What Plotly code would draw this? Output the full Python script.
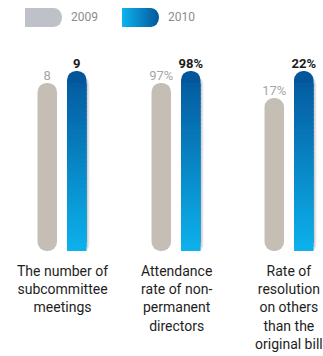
import base64
import plotly.graph_objects as go

# ---------------- data ----------------
categories = [
    "The number of<br>subcommittee<br>meetings",
    "Attendance<br>rate of non-<br>permanent<br>directors",
    "Rate of<br>resolution<br>on others<br>than the<br>original bill",
]
years = ["2009", "2010"]
values_2009 = [8, 97, 17]
values_2010 = [9, 98, 22]
labels_2009 = ["8", "97%", "17%"]
labels_2010 = ["9", "98%", "22%"]

# ---------------- layout / style ----------------
W, H = 323, 356
Y_RANGES = [(-6.0, 11.58), (83.0, 100.58), (-11.33, 27.74)]   # per-group axis ranges (infographic scale)
PX_PER_UNIT = [12.0, 12.0, 5.4]
GROUP_CENTERS = [62, 176, 289]
GROUP_W = 59
PLOT_TOP, PLOT_BOTTOM = 40, 251
GRAY = "#c4beb4"
BLUE_TOP = (4, 86, 155)
BLUE_BOTTOM = (12, 178, 236)
N_SEG = 40
CAP_PX = 12

def lerp(c1, c2, t):
    return "rgb(%d,%d,%d)" % tuple(round(a + (b - a) * t) for a, b in zip(c1, c2))

fig = go.Figure()
shadow_offsets = [(-0.33 + 0.10, "rgba(0,0,0,0.08)"), (-0.33 + 0.06, "rgba(0,0,0,0.10)")]

for i in range(3):
    xa = "x" if i == 0 else f"x{i+1}"
    ya = "y" if i == 0 else f"y{i+1}"
    lo, hi = Y_RANGES[i]
    v09, v10 = values_2009[i], values_2010[i]
    # gray bar (2009)
    fig.add_trace(go.Bar(x=[years[0]], y=[v09 - lo], base=[lo], xaxis=xa, yaxis=ya,
                         marker=dict(color=GRAY, cornerradius="50%", line=dict(width=0)),
                         hoverinfo="skip", showlegend=False))
    # shadow of blue bar
    for off, col in shadow_offsets:
        fig.add_trace(go.Bar(x=[years[1]], y=[v10 - lo - 1 / PX_PER_UNIT[i]], base=[lo - 3 / PX_PER_UNIT[i]],
                             offset=off, width=0.66, xaxis=xa, yaxis=ya,
                             marker=dict(color=col, cornerradius="50%", line=dict(width=0)),
                             hoverinfo="skip", showlegend=False))
    # full blue bar (rounded top)
    fig.add_trace(go.Bar(x=[years[1]], y=[v10 - lo], base=[lo], xaxis=xa, yaxis=ya,
                         offset=-0.33, width=0.66,
                         marker=dict(color=lerp(BLUE_BOTTOM, BLUE_TOP, 1.0), cornerradius="50%", line=dict(width=0)),
                         hoverinfo="skip", showlegend=False))
    # gradient segments
    total = v10 - lo
    grad_h = total - CAP_PX / PX_PER_UNIT[i]
    seg = grad_h / N_SEG
    bases, heights, colors = [], [], []
    for k in range(N_SEG):
        bases.append(lo + k * seg)
        heights.append(seg * 1.6 if k < N_SEG - 1 else seg)
        colors.append(lerp(BLUE_BOTTOM, BLUE_TOP, (k + 0.5) * seg / total))
    fig.add_trace(go.Bar(x=[years[1]] * N_SEG, y=heights, base=bases, xaxis=xa, yaxis=ya,
                         offset=-0.33, width=0.66,
                         marker=dict(color=colors, line=dict(width=0)),
                         hoverinfo="skip", showlegend=False))
    # value labels
    fig.add_trace(go.Scatter(x=[years[0]], y=[v09], mode="text", text=[labels_2009[i]],
                             textposition="top center", xaxis=xa, yaxis=ya, cliponaxis=False,
                             textfont=dict(family="Roboto", size=13, color="#a6a6a6"),
                             hoverinfo="skip", showlegend=False))
    fig.add_trace(go.Scatter(x=[years[1]], y=[v10], mode="text", text=[labels_2010[i]],
                             textposition="top center", xaxis=xa, yaxis=ya, cliponaxis=False,
                             textfont=dict(family="Roboto", size=13, color="#1a1a1a", weight="bold"),
                             hoverinfo="skip", showlegend=False))
    # category label
    fig.add_annotation(text=categories[i], xref="paper", yref="paper",
                       x=GROUP_CENTERS[i] / W, y=1 - 261 / H, xanchor="center", yanchor="top",
                       showarrow=False, align="center",
                       font=dict(family="Roboto", size=14, color="#1e1e1e"))

axes = {}
for i in range(3):
    sfx = "" if i == 0 else str(i + 1)
    c = GROUP_CENTERS[i]
    axes[f"xaxis{sfx}"] = dict(domain=[(c - GROUP_W / 2) / W, (c + GROUP_W / 2) / W],
                               type="category", categoryorder="array", categoryarray=years,
                               range=[-0.5, 1.5], visible=False, fixedrange=True,
                               anchor=f"y{sfx}")
    axes[f"yaxis{sfx}"] = dict(domain=[1 - PLOT_BOTTOM / H, 1 - PLOT_TOP / H],
                               range=list(Y_RANGES[i]), visible=False, fixedrange=True,
                               anchor=f"x{sfx}")

# legend swatches as SVG images
def swatch(fill_def, fill):
    svg = ('<svg xmlns="http://www.w3.org/2000/svg" width="37" height="19">'
           f'<defs>{fill_def}</defs>'
           f'<path d="M0 0 H29 A8 9.5 0 0 1 29 19 H0 Z" fill="{fill}"/></svg>')
    return "data:image/svg+xml;base64," + base64.b64encode(svg.encode()).decode()

grad_def = ('<linearGradient id="g" x1="0" x2="1" y1="0" y2="0">'
            '<stop offset="0" stop-color="#0cb4ee"/><stop offset="1" stop-color="#04569b"/></linearGradient>')
images = [
    dict(source=swatch("", "#bec1c7"), xref="paper", yref="paper", x=25 / W, y=1 - 8 / H,
         sizex=37 / W, sizey=19 / H, xanchor="left", yanchor="top", sizing="stretch", layer="above"),
    dict(source=swatch(grad_def, "url(#g)"), xref="paper", yref="paper", x=122 / W, y=1 - 8 / H,
         sizex=37 / W, sizey=19 / H, xanchor="left", yanchor="top", sizing="stretch", layer="above"),
]
for txt, xp in [("2009", 69), ("2010", 166)]:
    fig.add_annotation(text=txt, xref="paper", yref="paper", x=xp / W, y=1 - 17.5 / H,
                       xanchor="left", yanchor="middle", showarrow=False,
                       font=dict(family="Roboto", size=12, color="#8c8c8c"))

fig.update_layout(width=W, height=H, margin=dict(l=0, r=0, t=0, b=0),
                  paper_bgcolor="white", plot_bgcolor="rgba(0,0,0,0)",
                  barmode="overlay", bargap=0.34, showlegend=False,
                  images=images, **axes)

fig.write_html("out.html", config={"displayModeBar": False})
